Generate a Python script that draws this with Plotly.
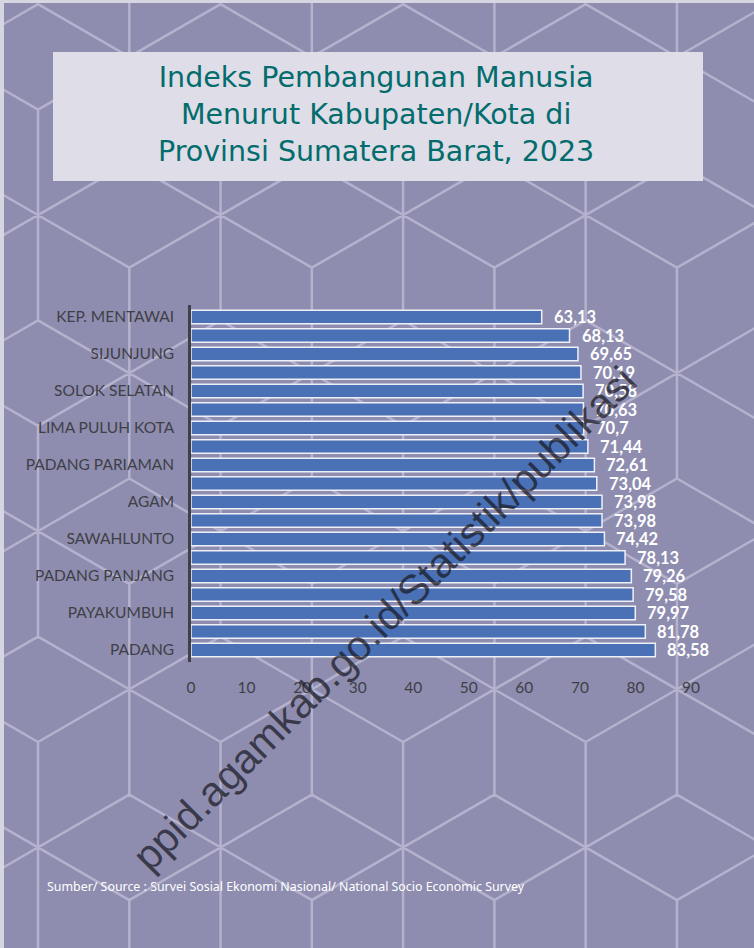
import math
import plotly.graph_objects as go

# data
regions = ["KEP. MENTAWAI", "PASAMAN", "SIJUNJUNG", "PASAMAN BARAT", "SOLOK SELATAN",
           "DHARMASRAYA", "LIMA PULUH KOTA", "PESISIR SELATAN", "PADANG PARIAMAN",
           "SOLOK", "AGAM", "TANAH DATAR", "SAWAHLUNTO", "PARIAMAN", "PADANG PANJANG",
           "KOTA SOLOK", "PAYAKUMBUH", "BUKITTINGGI", "PADANG"]
ipm = [63.13, 68.13, 69.65, 70.19, 70.58, 70.63, 70.7, 71.44, 72.61, 73.04,
       73.98, 73.98, 74.42, 78.13, 79.26, 79.58, 79.97, 81.78, 83.58]
shown_labels = regions[::2]
x_ticks = [0, 10, 20, 30, 40, 50, 60, 70, 80, 90]
title_lines = ["Indeks Pembangunan Manusia", "Menurut Kabupaten/Kota di",
               "Provinsi Sumatera Barat, 2023"]

W, H = 754, 948
ML, MR, MT, MB = 191, 63, 305, 286
PW, PH = W - ML - MR, H - MT - MB


def px(x):
    return (x - ML) / PW


def py(y):
    return (H - MB - y) / PH


# hexagon/star background pattern (pixel geometry -> paper coords)
R = 105.4
dx = R * math.cos(math.pi / 6)
path = ""
for i in range(-1, 10):
    cx = 38 + dx * i
    for m in range(-1, 4):
        cy = 215 + 1.5 * R * (i % 2) + 3 * R * m
        segs = [((cx, cy - R), (cx, cy + R)),
                ((cx - dx, cy - R / 2), (cx + dx, cy + R / 2)),
                ((cx - dx, cy + R / 2), (cx + dx, cy - R / 2))]
        for (x0, y0), (x1, y1) in segs:
            path += f"M{px(x0):.4f},{py(y0):.4f} L{px(x1):.4f},{py(y1):.4f} "

shapes = [
    dict(type="path", path=path, xref="paper", yref="paper", layer="below",
         line=dict(color="#b4b2cd", width=2.5)),
    dict(type="rect", xref="paper", yref="paper", layer="below",
         x0=px(53), x1=px(703), y0=py(181), y1=py(52),
         fillcolor="#dedde8", line=dict(width=0)),
    dict(type="rect", xref="paper", yref="paper", layer="below",
         x0=px(0), x1=px(4), y0=py(H), y1=py(0),
         fillcolor="#d6d5e2", line=dict(width=0)),
    dict(type="rect", xref="paper", yref="paper", layer="below",
         x0=px(0), x1=px(W), y0=py(3), y1=py(0),
         fillcolor="#d6d5e2", line=dict(width=0)),
]

fig = go.Figure()
fig.add_trace(go.Bar(
    x=ipm, y=regions, orientation="h",
    marker=dict(color="#4a70b5", line=dict(color="#eef0f8", width=1.5)),
    width=0.72, hoverinfo="x+y",
))

annotations = []
for r, v in zip(regions, ipm):
    annotations.append(dict(
        x=v, y=r, xref="x", yref="y", text=f"{v:g}".replace(".", ","),
        showarrow=False, xanchor="left", xshift=10,
        font=dict(family="Lato", size=16.5, color="white", weight="bold"),
    ))

annotations.append(dict(
    x=px(376), y=py(115), xref="paper", yref="paper", showarrow=False,
    text="<br>".join(title_lines), align="center",
    font=dict(family="DejaVu Sans", size=28.5, color="#036c6c"),
    xanchor="center", yanchor="middle",
))
annotations.append(dict(
    x=px(45), y=py(886), xref="paper", yref="paper", showarrow=False,
    text="Sumber/ Source : Survei Sosial Ekonomi Nasional/ National Socio Economic Survey",
    font=dict(family="Noto Sans", size=12.4, color="white"),
    xanchor="left", yanchor="middle",
))
annotations.append(dict(
    x=px(384), y=py(618), xref="paper", yref="paper", showarrow=False,
    text="ppid.agamkab.go.id/Statistik/publikasi", textangle=-45,
    font=dict(family="Liberation Sans", size=41.5, color="rgba(25,25,35,0.72)"),
    xanchor="center", yanchor="middle",
))

fig.update_layout(
    width=W, height=H,
    margin=dict(l=ML, r=MR, t=MT, b=MB, autoexpand=False),
    paper_bgcolor="#8e8db0", plot_bgcolor="rgba(0,0,0,0)",
    showlegend=False, bargap=0.28,
    shapes=shapes, annotations=annotations,
)
fig.update_xaxes(range=[0, 90], tickvals=x_ticks, showgrid=False, zeroline=False,
                 showline=False, ticks="", ticklabelstandoff=14,
                 tickfont=dict(family="Lato", size=15.5, color="#3f3f46"))
fig.update_yaxes(categoryorder="array", categoryarray=regions, autorange="reversed",
                 tickvals=shown_labels, showgrid=False, zeroline=False,
                 showline=True, linecolor="#404048", linewidth=2.5, ticks="",
                 ticklabelstandoff=11,
                 tickfont=dict(family="Lato", size=15.5, color="#3f3f46"))

fig.write_html("out.html", config={"displayModeBar": False},
               post_script="document.body.style.margin='0';document.body.style.overflow='hidden';")
